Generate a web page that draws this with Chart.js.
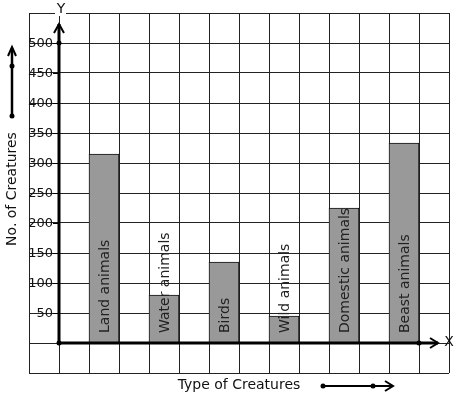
<!DOCTYPE html>
<html>
<head>
<meta charset="utf-8">
<script src="https://cdn.jsdelivr.net/npm/chart.js@4/dist/chart.umd.min.js"></script>
<style>
html,body{margin:0;padding:0;background:#fff;}
#wrap{width:457px;height:399px;position:relative;}
</style>
</head>
<body>
<div id="wrap"><canvas id="c" width="457" height="399"></canvas></div>
<script>
// ---- data ----
const categories = ['Land animals','Water animals','Birds','Wild animals','Domestic animals','Beast animals'];
const counts = [315, 80, 135, 45, 225, 333];
const tickValues = [50,100,150,200,250,300,350,400,450,500];
const yTitle = 'No. of Creatures';
const xTitle = 'Type of Creatures';

// 14 grid columns; bars occupy every second column starting at column 2
const slotCount = 14;
const slotLabels = [];
const slotData = [];
for (let i = 0; i < slotCount; i++) { slotLabels.push(''); slotData.push(null); }
categories.forEach((c, i) => { slotLabels[2 + 2*i] = c; slotData[2 + 2*i] = counts[i]; });

const FONT = '14px "DejaVu Sans"';
const TICK_FONT = '13px "DejaVu Sans"';

function dot(ctx, x, y, r) { ctx.beginPath(); ctx.arc(x, y, r, 0, Math.PI*2); ctx.fill(); }

const deco = {
  id: 'deco',
  afterDatasetsDraw(chart) {
    const ctx = chart.ctx;
    const xs = chart.scales.x, ys = chart.scales.y;
    const area = chart.chartArea;
    const ox = (xs.getPixelForValue(0) + xs.getPixelForValue(1)) / 2;
    const oy = ys.getPixelForValue(0);
    ctx.save();
    ctx.fillStyle = '#111'; ctx.strokeStyle = '#000';

    // bar labels
    ctx.font = FONT; ctx.fillStyle = '#222';
    categories.forEach((c, i) => {
      const x = xs.getPixelForValue(2 + 2*i);
      ctx.save();
      ctx.translate(x + 1, oy - 10);
      ctx.rotate(-Math.PI/2);
      ctx.textAlign = 'left'; ctx.textBaseline = 'middle';
      ctx.fillText(c, 0, 0);
      ctx.restore();
    });

    // y tick labels
    ctx.font = TICK_FONT;
    ctx.fillStyle = '#111';
    ctx.textAlign = 'right'; ctx.textBaseline = 'middle';
    ctx.lineWidth = 1;
    tickValues.forEach(v => {
      const y = Math.round(ys.getPixelForValue(v));
      ctx.fillText(String(v), ox - 6, y + 0.5);
      ctx.beginPath(); ctx.moveTo(ox - 6, y + 0.5); ctx.lineTo(ox, y + 0.5); ctx.stroke();
    });

    // Y axis
    ctx.strokeStyle = '#000'; ctx.fillStyle = '#000';
    ctx.lineWidth = 3;
    const yTop = area.top + 11;
    ctx.beginPath(); ctx.moveTo(ox, oy); ctx.lineTo(ox, yTop); ctx.stroke();
    ctx.lineWidth = 2;
    ctx.beginPath(); ctx.moveTo(ox - 5, yTop + 9); ctx.lineTo(ox, yTop); ctx.lineTo(ox + 5, yTop + 9); ctx.stroke();
    dot(ctx, ox, ys.getPixelForValue(500), 2.5);
    dot(ctx, ox, oy, 2.5);

    // X axis
    const xEnd = area.right - 11;
    ctx.lineWidth = 3;
    ctx.beginPath(); ctx.moveTo(ox, oy); ctx.lineTo(xEnd, oy); ctx.stroke();
    ctx.lineWidth = 2;
    ctx.beginPath(); ctx.moveTo(xEnd - 8, oy - 5); ctx.lineTo(xEnd, oy); ctx.lineTo(xEnd - 8, oy + 5); ctx.stroke();
    dot(ctx, (xs.getPixelForValue(12) + xs.getPixelForValue(13)) / 2, oy, 2.5);

    // axis letters
    ctx.font = FONT; ctx.textAlign = 'center'; ctx.textBaseline = 'middle';
    ctx.fillStyle = '#fff';
    ctx.fillRect(ox - 4, area.top - 2, 11, 5);
    ctx.fillStyle = '#111';
    ctx.fillText('Y', ox + 2, area.top - 4);
    ctx.fillText('X', area.right - 0, oy - 1);

    // Y title
    ctx.save();
    ctx.translate(12, 189);
    ctx.rotate(-Math.PI/2);
    ctx.fillText(yTitle, 0, 0);
    ctx.restore();
    // Y title arrow
    ctx.strokeStyle = '#000'; ctx.fillStyle = '#000';
    ctx.lineWidth = 2.5;
    ctx.beginPath(); ctx.moveTo(12, 116); ctx.lineTo(12, 48); ctx.stroke();
    ctx.lineWidth = 2;
    ctx.beginPath(); ctx.moveTo(8, 56); ctx.lineTo(12, 47); ctx.lineTo(16, 56); ctx.stroke();
    dot(ctx, 12, 116, 2.5); dot(ctx, 12, 66, 2.5);

    // X title
    ctx.fillStyle = '#111';
    ctx.fillText(xTitle, 239, 385);
    ctx.strokeStyle = '#000'; ctx.fillStyle = '#000';
    ctx.lineWidth = 2;
    ctx.beginPath(); ctx.moveTo(323, 386); ctx.lineTo(392, 386); ctx.stroke();
    ctx.beginPath(); ctx.moveTo(385, 381); ctx.lineTo(393, 386); ctx.lineTo(385, 391); ctx.stroke();
    dot(ctx, 323, 386, 2.5); dot(ctx, 373, 386, 2.5);

    ctx.restore();
  }
};

new Chart(document.getElementById('c'), {
  type: 'bar',
  data: {
    labels: slotLabels,
    datasets: [{
      data: slotData,
      backgroundColor: '#999999',
      borderColor: '#111',
      borderWidth: 1,
      barPercentage: 1,
      categoryPercentage: 1
    }]
  },
  options: {
    responsive: false,
    animation: false,
    devicePixelRatio: 1,
    layout: { padding: { left: 29, right: 8, top: 13, bottom: 26 } },
    plugins: { legend: { display: false }, tooltip: { enabled: false } },
    scales: {
      x: {
        type: 'category',
        grid: { display: true, offset: true, color: '#222', lineWidth: 1, drawTicks: false },
        border: { display: false },
        ticks: { display: false }
      },
      y: {
        type: 'linear',
        min: -50, max: 550,
        ticks: { display: false, stepSize: 50 },
        grid: { display: true, color: '#222', lineWidth: 1, drawTicks: false },
        border: { display: false }
      }
    }
  },
  plugins: [deco]
});
</script>
</body>
</html>
